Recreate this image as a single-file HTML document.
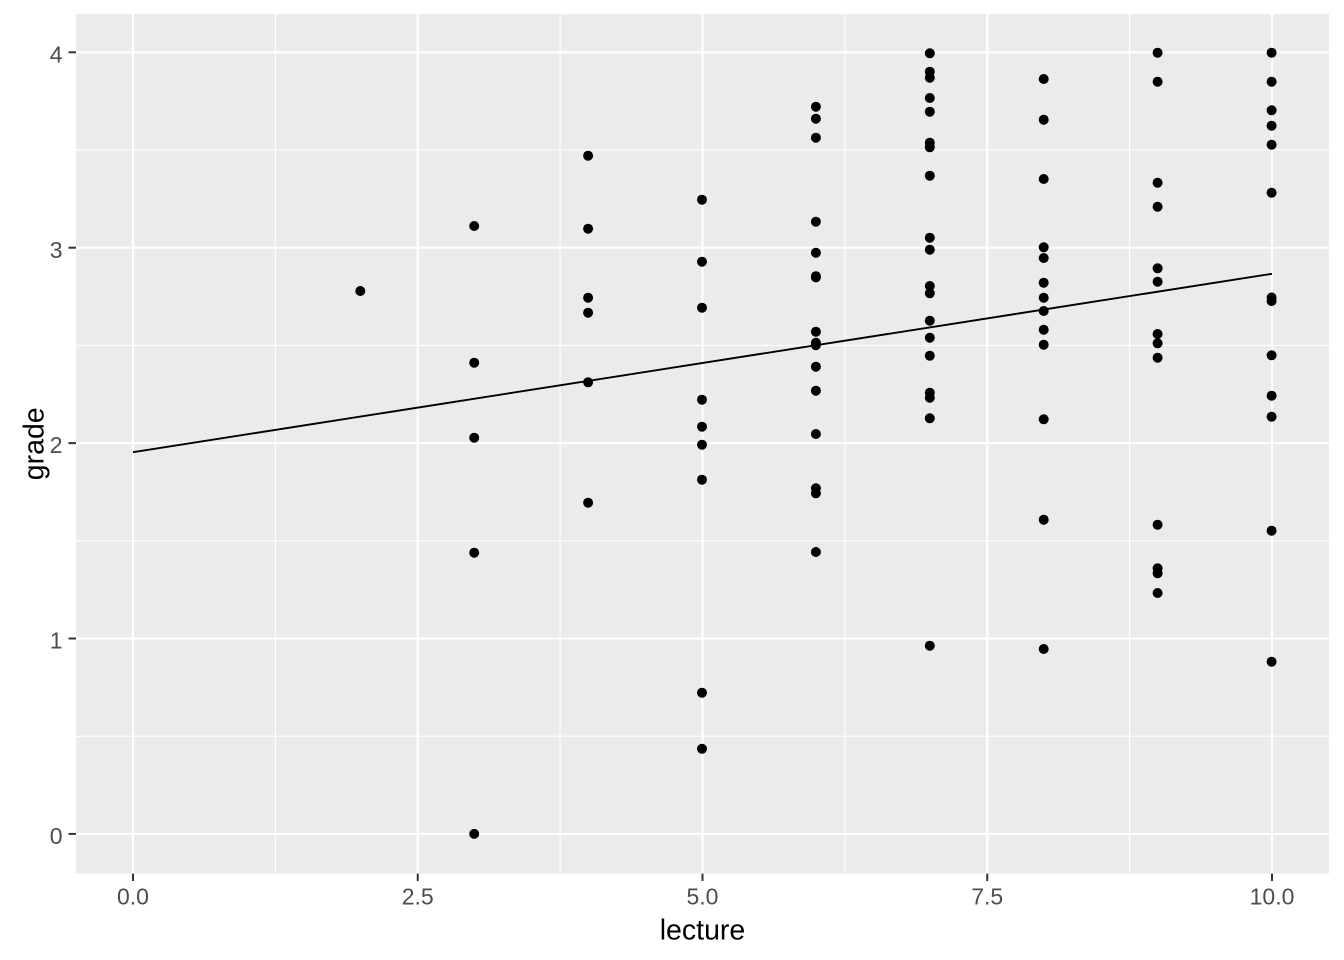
<!DOCTYPE html>
<html>
<head>
<meta charset="utf-8">
<style>
html,body{margin:0;padding:0;background:#fff;}
svg{display:block;}
text{font-family:"Liberation Sans",Arial,sans-serif;}
</style>
</head>
<body>
<svg width="1344" height="960" viewBox="0 0 1344 960" xmlns="http://www.w3.org/2000/svg">
<rect x="0" y="0" width="1344" height="960" fill="#ffffff"/>
<rect x="76" y="14" width="1253" height="859.6" fill="#EBEBEB"/>
<g stroke="#ffffff" stroke-width="1.1">
<line x1="76" x2="1329" y1="736.2" y2="736.2"/>
<line x1="76" x2="1329" y1="540.8" y2="540.8"/>
<line x1="76" x2="1329" y1="345.4" y2="345.4"/>
<line x1="76" x2="1329" y1="150.0" y2="150.0"/>
<line y1="14" y2="873.6" x1="275.4" x2="275.4"/>
<line y1="14" y2="873.6" x1="560.1" x2="560.1"/>
<line y1="14" y2="873.6" x1="844.9" x2="844.9"/>
<line y1="14" y2="873.6" x1="1129.6" x2="1129.6"/>
</g>
<g stroke="#ffffff" stroke-width="2.1">
<line x1="76" x2="1329" y1="833.9" y2="833.9"/>
<line x1="76" x2="1329" y1="638.5" y2="638.5"/>
<line x1="76" x2="1329" y1="443.1" y2="443.1"/>
<line x1="76" x2="1329" y1="247.7" y2="247.7"/>
<line x1="76" x2="1329" y1="52.3" y2="52.3"/>
<line y1="14" y2="873.6" x1="133" x2="133"/>
<line y1="14" y2="873.6" x1="417.75" x2="417.75"/>
<line y1="14" y2="873.6" x1="702.5" x2="702.5"/>
<line y1="14" y2="873.6" x1="987.25" x2="987.25"/>
<line y1="14" y2="873.6" x1="1272" x2="1272"/>
</g>
<g fill="#000000">
<circle cx="360.3" cy="291" r="5"/>
<circle cx="474.2" cy="226" r="5"/>
<circle cx="474.2" cy="362.7" r="5"/>
<circle cx="474.2" cy="437.7" r="5"/>
<circle cx="474.2" cy="552.7" r="5"/>
<circle cx="474.2" cy="833.9" r="5"/>
<circle cx="588.1" cy="155.7" r="5"/>
<circle cx="588.1" cy="228.7" r="5"/>
<circle cx="588.1" cy="297.7" r="5"/>
<circle cx="588.1" cy="312.7" r="5"/>
<circle cx="588.1" cy="382.3" r="5"/>
<circle cx="588.1" cy="502.7" r="5"/>
<circle cx="702" cy="199.7" r="5"/>
<circle cx="702" cy="261.7" r="5"/>
<circle cx="702" cy="307.7" r="5"/>
<circle cx="702" cy="399.7" r="5"/>
<circle cx="702" cy="426.7" r="5"/>
<circle cx="702" cy="444.7" r="5"/>
<circle cx="702" cy="479.7" r="5"/>
<circle cx="702" cy="692.7" r="5"/>
<circle cx="702" cy="748.8" r="5"/>
<circle cx="815.9" cy="106.7" r="5"/>
<circle cx="815.9" cy="118.7" r="5"/>
<circle cx="815.9" cy="137.7" r="5"/>
<circle cx="815.9" cy="221.7" r="5"/>
<circle cx="815.9" cy="252.7" r="5"/>
<circle cx="815.9" cy="276.2" r="5"/>
<circle cx="815.9" cy="277.4" r="5"/>
<circle cx="815.9" cy="331.7" r="5"/>
<circle cx="815.9" cy="342.8" r="5"/>
<circle cx="815.9" cy="345.2" r="5"/>
<circle cx="815.9" cy="366.7" r="5"/>
<circle cx="815.9" cy="390.7" r="5"/>
<circle cx="815.9" cy="434" r="5"/>
<circle cx="815.9" cy="488.3" r="5"/>
<circle cx="815.9" cy="493.3" r="5"/>
<circle cx="815.9" cy="552" r="5"/>
<circle cx="929.8" cy="53.3" r="5"/>
<circle cx="929.8" cy="71.7" r="5"/>
<circle cx="929.8" cy="77.7" r="5"/>
<circle cx="929.8" cy="98" r="5"/>
<circle cx="929.8" cy="111.7" r="5"/>
<circle cx="929.8" cy="142.7" r="5"/>
<circle cx="929.8" cy="147.3" r="5"/>
<circle cx="929.8" cy="175.7" r="5"/>
<circle cx="929.8" cy="237.7" r="5"/>
<circle cx="929.8" cy="249.7" r="5"/>
<circle cx="929.8" cy="286" r="5"/>
<circle cx="929.8" cy="293.3" r="5"/>
<circle cx="929.8" cy="320.7" r="5"/>
<circle cx="929.8" cy="337.7" r="5"/>
<circle cx="929.8" cy="355.7" r="5"/>
<circle cx="929.8" cy="392.7" r="5"/>
<circle cx="929.8" cy="397.7" r="5"/>
<circle cx="929.8" cy="418.3" r="5"/>
<circle cx="929.8" cy="645.7" r="5"/>
<circle cx="1043.7" cy="79" r="5"/>
<circle cx="1043.7" cy="119.7" r="5"/>
<circle cx="1043.7" cy="179" r="5"/>
<circle cx="1043.7" cy="247.3" r="5"/>
<circle cx="1043.7" cy="258" r="5"/>
<circle cx="1043.7" cy="282.7" r="5"/>
<circle cx="1043.7" cy="297.7" r="5"/>
<circle cx="1043.7" cy="311" r="5"/>
<circle cx="1043.7" cy="329.7" r="5"/>
<circle cx="1043.7" cy="344.7" r="5"/>
<circle cx="1043.7" cy="419.3" r="5"/>
<circle cx="1043.7" cy="519.7" r="5"/>
<circle cx="1043.7" cy="649" r="5"/>
<circle cx="1157.6" cy="52.7" r="5"/>
<circle cx="1157.6" cy="81.7" r="5"/>
<circle cx="1157.6" cy="182.7" r="5"/>
<circle cx="1157.6" cy="206.7" r="5"/>
<circle cx="1157.6" cy="268.3" r="5"/>
<circle cx="1157.6" cy="281.7" r="5"/>
<circle cx="1157.6" cy="334" r="5"/>
<circle cx="1157.6" cy="343.3" r="5"/>
<circle cx="1157.6" cy="357.7" r="5"/>
<circle cx="1157.6" cy="524.7" r="5"/>
<circle cx="1157.6" cy="568.3" r="5"/>
<circle cx="1157.6" cy="573.3" r="5"/>
<circle cx="1157.6" cy="593" r="5"/>
<circle cx="1271.6" cy="52.7" r="5"/>
<circle cx="1271.6" cy="81.7" r="5"/>
<circle cx="1271.6" cy="110.3" r="5"/>
<circle cx="1271.6" cy="125.7" r="5"/>
<circle cx="1271.6" cy="144.7" r="5"/>
<circle cx="1271.6" cy="192.7" r="5"/>
<circle cx="1271.6" cy="297.5" r="5"/>
<circle cx="1271.6" cy="301" r="5"/>
<circle cx="1271.6" cy="355.3" r="5"/>
<circle cx="1271.6" cy="395.7" r="5"/>
<circle cx="1271.6" cy="416.7" r="5"/>
<circle cx="1271.6" cy="530.7" r="5"/>
<circle cx="1271.6" cy="661.7" r="5"/>
</g>
<line x1="133" y1="452.2" x2="1272" y2="273.8" stroke="#000000" stroke-width="1.9"/>
<g stroke="#333333" stroke-width="2">
<line x1="68.5" x2="76" y1="833.9" y2="833.9"/>
<line x1="68.5" x2="76" y1="638.5" y2="638.5"/>
<line x1="68.5" x2="76" y1="443.1" y2="443.1"/>
<line x1="68.5" x2="76" y1="247.7" y2="247.7"/>
<line x1="68.5" x2="76" y1="52.3" y2="52.3"/>
<line y1="873.6" y2="881" x1="133" x2="133"/>
<line y1="873.6" y2="881" x1="417.75" x2="417.75"/>
<line y1="873.6" y2="881" x1="702.5" x2="702.5"/>
<line y1="873.6" y2="881" x1="987.25" x2="987.25"/>
<line y1="873.6" y2="881" x1="1272" x2="1272"/>
</g>
<g fill="#4D4D4D" font-size="23" text-anchor="end">
<text x="62.5" y="843.9">0</text>
<text x="62.5" y="648.6">1</text>
<text x="62.5" y="453.2">2</text>
<text x="62.5" y="257.8">3</text>
<text x="62.5" y="62.4">4</text>
</g>
<g fill="#4D4D4D" font-size="23" text-anchor="middle">
<text x="133" y="904.5">0.0</text>
<text x="417.75" y="904.5">2.5</text>
<text x="702.5" y="904.5">5.0</text>
<text x="987.25" y="904.5">7.5</text>
<text x="1272" y="904.5">10.0</text>
</g>
<text x="702.5" y="939.5" font-size="28.5" text-anchor="middle" fill="#000000">lecture</text>
<text transform="translate(43.3,443.8) rotate(-90)" x="0" y="0" font-size="28.5" text-anchor="middle" fill="#000000">grade</text>
</svg>
</body>
</html>
